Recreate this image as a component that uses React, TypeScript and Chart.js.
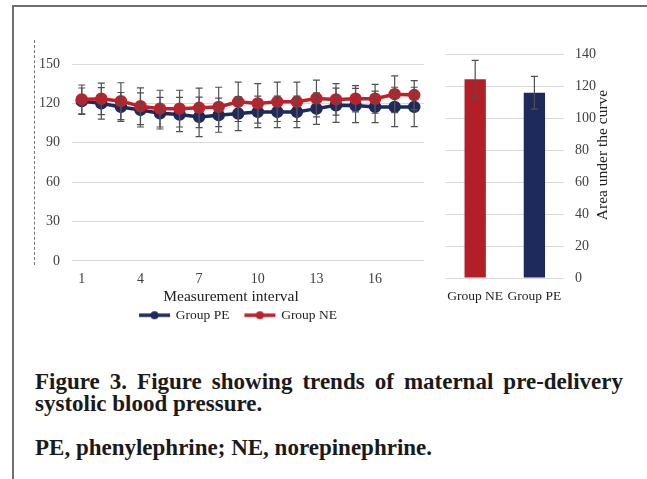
import React, { useEffect, useRef } from "react";
import { Chart, registerables } from "chart.js";
Chart.register(...registerables);

const intervals = ["1","2","3","4","5","6","7","8","9","10","11","12","13","14","15","16","17","18"];
const peMean = [121.7, 120, 117.3, 115, 112.5, 111.5, 109.7, 111, 112.2, 113.5, 113.5, 113.5, 116, 118.6, 118.4, 117.3, 117.3, 117.3];
const peSD = [10, 12, 11, 13, 12, 13, 15, 13, 13, 12, 12, 12, 12, 13, 13, 12, 15, 15];
const neMean = [123, 123.5, 121.7, 117.8, 116, 116, 116.6, 117.3, 121.2, 120, 121.2, 121.2, 123.7, 123, 123.5, 123.5, 127, 126.3];
const neSD = [11, 12, 14, 14, 14, 14, 15, 15, 15, 15, 15, 15, 14, 12, 10, 11, 14, 11];
const leftTickStep = 30;
const leftMax = 150;

const aucGroups = ["Group NE", "Group PE"];
const aucMean = [124.2, 115.8];
const aucSD = [11.8, 10.2];
const rightTickStep = 20;
const rightMax = 140;

const RED = "#BE2129";
const NAVY = "#1C2A5E";
const BAR_RED = "#B21F27";
const BAR_NAVY = "#1E2A5B";
const GRID = "#D9D9D9";
const TICK = "#404040";
const FONT = "'Liberation Serif', serif";

function makeErrorPlugin(sets: { index: number; mean: number[]; sd: number[] }[]) {
  return {
    id: "errorBars",
    afterDatasetsDraw(chart: any) {
      const ctx = chart.ctx;
      const y = chart.scales.y;
      ctx.save();
      ctx.strokeStyle = "#505050";
      ctx.lineWidth = 1.2;
      sets.forEach((s) => {
        const meta = chart.getDatasetMeta(s.index);
        meta.data.forEach((el: any, i: number) => {
          const x = el.x;
          const top = y.getPixelForValue(s.mean[i] + s.sd[i]);
          const bot = y.getPixelForValue(s.mean[i] - s.sd[i]);
          ctx.beginPath();
          ctx.moveTo(x, top);
          ctx.lineTo(x, bot);
          ctx.moveTo(x - 3.5, top);
          ctx.lineTo(x + 3.5, top);
          ctx.moveTo(x - 3.5, bot);
          ctx.lineTo(x + 3.5, bot);
          ctx.stroke();
        });
      });
      ctx.restore();
    },
  };
}

function legendMarker(color: string) {
  const c = document.createElement("canvas");
  c.width = 48;
  c.height = 10;
  const g = c.getContext("2d")!;
  g.strokeStyle = color;
  g.lineWidth = 3.5;
  g.beginPath();
  g.moveTo(16, 5);
  g.lineTo(47, 5);
  g.stroke();
  g.fillStyle = color;
  g.beginPath();
  g.arc(31.5, 5, 4, 0, Math.PI * 2);
  g.fill();
  return c;
}

function LineChart() {
  const ref = useRef<HTMLCanvasElement>(null);
  useEffect(() => {
    const markers = [legendMarker(NAVY), legendMarker(RED)];
    const chart = new Chart(ref.current!, {
      type: "line",
      data: {
        labels: intervals,
        datasets: [
          { label: "Group PE", data: peMean, borderColor: NAVY, backgroundColor: NAVY, pointBackgroundColor: NAVY, pointBorderColor: NAVY, borderWidth: 3.5, pointRadius: 4.5, tension: 0, order: 2 },
          { label: "Group NE", data: neMean, borderColor: RED, backgroundColor: RED, pointBackgroundColor: RED, pointBorderColor: RED, borderWidth: 3.5, pointRadius: 4.5, tension: 0, order: 1 },
        ],
      },
      options: {
        animation: false,
        responsive: false,
        layout: { padding: { top: 24, right: 6, left: 0, bottom: 0 } },
        plugins: {
          tooltip: { enabled: false },
          legend: {
            position: "bottom",
            title: { display: true, text: "Measurement interval", color: "#222", font: { family: FONT, size: 15.5 }, padding: { top: 0, bottom: 0 } },
            labels: {
              usePointStyle: true,
              pointStyleWidth: 44,
              boxHeight: 10,
              padding: 1,
              color: "#222",
              font: { family: FONT, size: 13.5 },
              sort: (a: any, b: any) => a.datasetIndex - b.datasetIndex,
              generateLabels: (ch: any) => {
                const items = Chart.defaults.plugins.legend.labels.generateLabels(ch);
                return items.map((it: any) => ({ ...it, pointStyle: markers[it.datasetIndex] }));
              },
            },
          },
        },
        scales: {
          x: {
            type: "category",
            offset: true,
            grid: { display: false, drawTicks: false },
            border: { display: false },
            ticks: {
              autoSkip: false,
              maxRotation: 0,
              padding: 10,
              color: TICK,
              font: { family: FONT, size: 14 },
              callback: (_v: any, i: number) => (i % 3 === 0 ? intervals[i] : ""),
            },
            afterFit: (s: any) => { s.height = 28; },
          },
          y: {
            min: 0,
            max: leftMax,
            grid: { color: GRID, drawTicks: false, lineWidth: 1 },
            border: { display: false },
            ticks: { stepSize: leftTickStep, padding: 12, color: TICK, font: { family: FONT, size: 14 } },
            afterFit: (s: any) => { s.width = 36; },
          },
        },
      },
      plugins: [makeErrorPlugin([{ index: 0, mean: peMean, sd: peSD }, { index: 1, mean: neMean, sd: neSD }])],
    } as any);
    return () => chart.destroy();
  }, []);
  return <canvas ref={ref} width={396} height={292} style={{ position: "absolute", left: 36, top: 40 }} />;
}

const axisTitlePlugin = {
  id: "rightTitle",
  afterDraw(chart: any) {
    const ctx = chart.ctx;
    const s = chart.scales.y;
    const area = chart.chartArea;
    ctx.save();
    ctx.translate(s.right - 9, (area.top + area.bottom) / 2 - 11);
    ctx.rotate(-Math.PI / 2);
    ctx.font = `15.5px ${FONT}`;
    ctx.fillStyle = "#222";
    ctx.textAlign = "center";
    ctx.textBaseline = "middle";
    ctx.fillText("Area under the curve", 0, 0);
    ctx.restore();
  },
};

function BarChart() {
  const ref = useRef<HTMLCanvasElement>(null);
  useEffect(() => {
    const chart = new Chart(ref.current!, {
      type: "bar",
      data: {
        labels: aucGroups,
        datasets: [
          { label: "AUC", data: aucMean, backgroundColor: [BAR_RED, BAR_NAVY], borderWidth: 0, barPercentage: 0.36, categoryPercentage: 1 },
        ],
      },
      options: {
        animation: false,
        responsive: false,
        layout: { padding: { top: 14, left: 5, right: 0, bottom: 0 } },
        plugins: { legend: { display: false }, tooltip: { enabled: false } },
        scales: {
          x: {
            grid: { display: false, drawTicks: false },
            border: { display: false },
            ticks: { autoSkip: false, maxRotation: 0, padding: 10, color: "#222", font: { family: FONT, size: 13.5 } },
            afterFit: (s: any) => { s.height = 30; },
          },
          y: {
            position: "right",
            min: 0,
            max: rightMax,
            grid: { color: GRID, drawTicks: false },
            border: { display: false },
            ticks: { stepSize: rightTickStep, padding: 11, color: TICK, font: { family: FONT, size: 14 } },
            afterFit: (s: any) => { s.width = 48; s.paddingTop = 0; s.paddingBottom = 0; },
          },
        },
      },
      plugins: [makeErrorPlugin([{ index: 0, mean: aucMean, sd: aucSD }]), axisTitlePlugin],
    } as any);
    return () => chart.destroy();
  }, []);
  return <canvas ref={ref} width={176} height={268} style={{ position: "absolute", left: 436, top: 40 }} />;
}

export default function App() {
  const capStyle: React.CSSProperties = {
    position: "absolute",
    left: 35,
    width: 588,
    fontFamily: FONT,
    fontWeight: "bold",
    fontSize: 23,
    color: "#1a1a1a",
    whiteSpace: "nowrap",
    lineHeight: "22px",
  };
  return (
    <div style={{ position: "fixed", left: 0, top: 0, width: 647, height: 479, background: "#fff", overflow: "hidden" }}>
      <div style={{ position: "absolute", left: 12, top: 5, width: 640, height: 480, borderLeft: "2px solid #707070", borderTop: "2px solid #707070" }} />
      <div style={{ position: "absolute", left: 34, top: 40, height: 225, borderLeft: "1px dashed #777" }} />
      <LineChart />
      <BarChart />
      <div style={{ ...capStyle, top: 371, textAlign: "justify", textAlignLast: "justify", whiteSpace: "normal" }}>
        Figure 3. Figure showing trends of maternal pre-delivery
      </div>
      <div style={{ ...capStyle, top: 393 }}>systolic blood pressure.</div>
      <div style={{ ...capStyle, top: 437 }}>PE, phenylephrine; NE, norepinephrine.</div>
    </div>
  );
}
